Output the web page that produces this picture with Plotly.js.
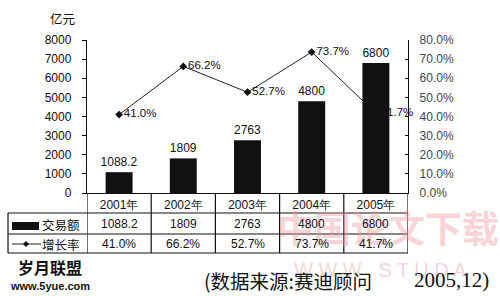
<!DOCTYPE html>
<html>
<head>
<meta charset="utf-8">
<script src="https://cdn.plot.ly/plotly-3.0.1.min.js"></script>
<style>html,body{margin:0;padding:0;background:#fff;}#chart{width:500px;height:296px;}</style>
</head>
<body>
<div id="chart"></div>
<script>
// ---- data ----
const years = ['2001年', '2002年', '2003年', '2004年', '2005年'];
const amounts = [1088.2, 1809, 2763, 4800, 6800];
const growth = [0.410, 0.662, 0.527, 0.737, 0.417];
const seriesNames = ['交易额', '增长率'];
const unitLabel = '亿元';
const sourceLeft = '(数据来源:赛迪顾问';
const sourceRight = '2005,12)';

// ---- layout helpers (pixel -> paper) ----
const L = 87, T = 40, PW = 321, PH = 153;
const px = x => (x - L) / PW;
const py = y => (T + PH - y) / PH;

const amountText = amounts.map(v => String(v));
const growthText = growth.map(v => (v * 100).toFixed(1) + '%');

const font = 'Liberation Sans, Arial, sans-serif';
const cjk = 'Noto Sans CJK SC, sans-serif';
const serif = 'Liberation Serif, Times New Roman, serif';

const lineTrace = {
  type: 'scatter', mode: 'lines+markers+text',
  x: years, y: growth, yaxis: 'y', xaxis: 'x',
  text: growthText, textposition: 'middle right',
  textfont: {family: font, size: 11.5, color: '#111'},
  line: {color: '#222', width: 1},
  marker: {symbol: 'diamond', size: 6, color: '#111'},
  cliponaxis: false, showlegend: false, hoverinfo: 'skip'
};
const barTrace = {
  type: 'bar', x: years, y: amounts, yaxis: 'y2', xaxis: 'x',
  width: 0.42, marker: {color: '#111'},
  text: amountText, textposition: 'outside', constraintext: 'none',
  textfont: {family: font, size: 12, color: '#111'},
  cliponaxis: false, showlegend: false, hoverinfo: 'skip'
};

const shapes = [];
const hl = y => shapes.push({type: 'line', xref: 'paper', yref: 'paper', x0: px(8), x1: px(408), y0: py(y), y1: py(y), line: {color: '#111', width: 1.2}});
[213, 234, 253].forEach(hl);
shapes.push({type: 'line', xref: 'paper', yref: 'paper', x0: px(8), x1: px(8), y0: py(213), y1: py(253), line: {color: '#111', width: 1.2}});
for (let i = 0; i <= years.length; i++) {
  shapes.push({type: 'line', xref: 'x', yref: 'paper', x0: i - 0.5, x1: i - 0.5, y0: py(193), y1: py(253), line: {color: '#111', width: 1.2}});
}
// legend symbols in table
shapes.push({type: 'rect', xref: 'paper', yref: 'paper', x0: px(12), x1: px(39), y0: py(230), y1: py(222), fillcolor: '#111', line: {width: 0}});
shapes.push({type: 'line', xref: 'paper', yref: 'paper', x0: px(12), x1: px(41), y0: py(244), y1: py(244), line: {color: '#222', width: 1}});
shapes.push({type: 'path', xref: 'paper', yref: 'paper',
  path: `M ${px(26)} ${py(241)} L ${px(29)} ${py(244)} L ${px(26)} ${py(247)} L ${px(23)} ${py(244)} Z`,
  fillcolor: '#111', line: {width: 0}});

const ann = [];
const A = (text, x, y, fnt, extra) => ann.push(Object.assign({text, x: px(x), y: py(y), xref: 'paper', yref: 'paper', showarrow: false, xanchor: 'center', yanchor: 'middle', font: fnt}, extra || {}));

// watermark (faint)
const wm = 'rgba(235,150,160,0.42)';
A('中国论文下载', 388, 227, {family: cjk, size: 37, color: wm, weight: 'bold'});
A('W W W . S T U D A .', 385, 270, {family: font, size: 20, color: wm});

A(unitLabel, 62, 18, {family: cjk, size: 12.5, color: '#111'});
A(seriesNames[0], 61, 224, {family: cjk, size: 12.5, color: '#111'});
A(seriesNames[1], 61, 244, {family: cjk, size: 12.5, color: '#111'});
years.forEach((y, i) => {
  ann.push({text: amountText[i], x: y, xref: 'x', y: py(224), yref: 'paper', xanchor: 'center', yanchor: 'middle', showarrow: false, font: {family: font, size: 12, color: '#111'}});
  ann.push({text: growthText[i], x: y, xref: 'x', y: py(244), yref: 'paper', xanchor: 'center', yanchor: 'middle', showarrow: false, font: {family: font, size: 12, color: '#111'}});
});
A('岁月联盟', 50, 267, {family: cjk, size: 16, color: '#111', weight: 'bold'});
A('www.5yue.com', 50, 286, {family: font, size: 11, color: '#111', weight: 'bold'});
A(sourceLeft, 202, 280, {family: cjk, size: 19.5, color: '#111'}, {xanchor: 'left'});
A(sourceRight, 491, 280, {family: serif, size: 21, color: '#111'}, {xanchor: 'right'});

const layout = {
  width: 500, height: 296,
  margin: {l: L, r: 500 - L - PW, t: T, b: 296 - T - PH, pad: 0},
  paper_bgcolor: '#fff', plot_bgcolor: 'rgba(0,0,0,0)',
  showlegend: false,
  xaxis: {type: 'category', range: [-0.5, 4.5], showgrid: false, zeroline: false,
    showline: true, linecolor: '#111', linewidth: 1.2, ticks: '',
    tickfont: {family: font, size: 12, color: '#111'}, fixedrange: true},
  yaxis: {side: 'right', range: [0, 0.8], dtick: 0.1, tickformat: '.1%',
    showgrid: false, zeroline: false, showline: true, linecolor: '#111', linewidth: 1.2,
    ticks: 'inside', ticklen: 3, tickcolor: '#111', ticklabelstandoff: 8,
    tickfont: {family: font, size: 12, color: '#444'}, fixedrange: true},
  yaxis2: {side: 'left', overlaying: 'y', range: [0, 8000], dtick: 1000,
    showgrid: false, zeroline: false, showline: true, linecolor: '#111', linewidth: 1.2,
    ticks: 'outside', ticklen: 4, tickcolor: '#111', ticklabelstandoff: 8,
    tickfont: {family: font, size: 12, color: '#111'}, fixedrange: true},
  shapes, annotations: ann
};

Plotly.newPlot('chart', [lineTrace, barTrace], layout, {displayModeBar: false, staticPlot: true});
</script>
</body>
</html>
